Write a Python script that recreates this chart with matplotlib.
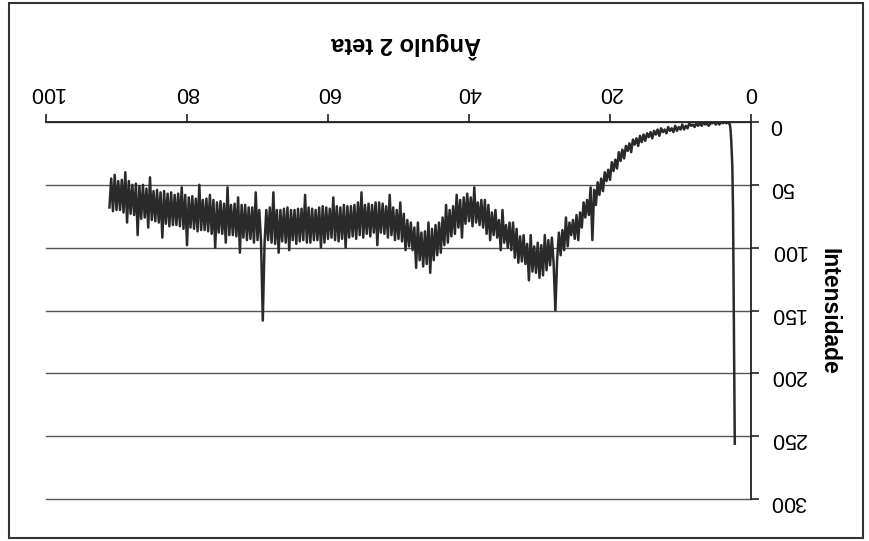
# Difratograma (imagem digitalizada de cabeca para baixo)

import numpy as np
import matplotlib
matplotlib.use("Agg")
from matplotlib import pyplot as plt
from matplotlib.patches import Rectangle

# Trecho inicial (queda brusca em angulos baixos)
angulo_inicio = [2.3, 2.55, 2.65, 2.8, 2.9]
intensidade_inicio = [256, 70, 35, 15, 6]

# Varredura a partir de 3 graus, passo de 0.25 grau (4 leituras por grau)
intensidade_varredura = [
    2, 0, 1, 0,        # 3
    1, 0, 2, 0,        # 4
    2, 0, 1, 1,        # 5
    3, 1, 2, 0,        # 6
    3, 1, 3, 1,        # 7
    4, 2, 3, 1,        # 8
    5, 3, 6, 2,        # 9
    6, 4, 7, 3,        # 10
    8, 5, 7, 4,        # 11
    9, 6, 8, 5,        # 12
    11, 6, 10, 7,      # 13
    13, 8, 12, 9,      # 14
    15, 10, 16, 11,    # 15
    19, 13, 18, 14,    # 16
    24, 17, 23, 19,    # 17
    29, 22, 31, 24,    # 18
    37, 30, 39, 32,    # 19
    46, 38, 47, 40,    # 20
    55, 45, 58, 48,    # 21
    66, 54, 94, 52,    # 22
    74, 62, 76, 64,    # 23
    84, 72, 94, 74,    # 24
    93, 78, 90, 80,    # 25
    99, 76, 102, 86,   # 26
    106, 88, 110, 150, # 27
    112, 92, 114, 94,  # 28
    118, 90, 122, 98,  # 29
    124, 96, 120, 99,  # 30
    119, 90, 126, 97,  # 31
    113, 90, 111, 91,  # 32
    112, 85, 108, 80,  # 33
    102, 80, 100, 82,  # 34
    96, 70, 102, 78,   # 35
    92, 70, 90, 72,    # 36
    94, 66, 89, 62,    # 37
    84, 62, 82, 64,    # 38
    80, 52, 83, 60,    # 39
    79, 57, 81, 60,    # 40
    92, 62, 84, 58,    # 41
    89, 67, 91, 70,    # 42
    96, 66, 98, 76,    # 43
    104, 80, 106, 82,  # 44
    110, 85, 120, 80,  # 45
    113, 87, 115, 88,  # 46
    110, 80, 116, 84,  # 47
    102, 80, 99, 78,   # 48
    102, 73, 95, 64,   # 49
    93, 70, 94, 68,    # 50
    90, 58, 92, 67,    # 51
    89, 65, 88, 64,    # 52
    98, 64, 88, 66,    # 53
    91, 65, 89, 66,    # 54
    92, 56, 90, 64,    # 55
    93, 66, 91, 67,    # 56
    92, 67, 100, 66,   # 57
    93, 68, 95, 67,    # 58
    94, 60, 92, 69,    # 59
    93, 68, 96, 67,    # 60
    100, 68, 94, 70,   # 61
    94, 69, 96, 68,    # 62
    96, 58, 94, 69,    # 63
    95, 69, 97, 70,    # 64
    94, 70, 102, 68,   # 65
    96, 69, 95, 70,    # 66
    104, 70, 97, 56,   # 67
    96, 68, 94, 70,    # 68
    97, 158, 95, 70,   # 69
    94, 56, 96, 68,    # 70
    93, 68, 94, 66,    # 71
    92, 66, 104, 60,   # 72
    91, 65, 90, 66,    # 73
    90, 52, 96, 65,    # 74
    89, 63, 88, 64,    # 75
    100, 62, 89, 58,   # 76
    87, 61, 86, 62,    # 77
    86, 50, 87, 61,    # 78
    85, 59, 84, 60,    # 79
    98, 58, 85, 52,    # 80
    83, 57, 82, 58,    # 81
    82, 56, 83, 57,    # 82
    81, 55, 92, 56,    # 83
    80, 54, 79, 55,    # 84
    78, 44, 84, 53,    # 85
    76, 50, 77, 51,    # 86
    90, 49, 74, 50,    # 87
    73, 47, 80, 40,    # 88
    72, 46, 70, 47,    # 89
    70, 42, 71, 45,    # 90
    68,                # 91
]

ticks_x = [0, 20, 40, 60, 80, 100]
ticks_y = [0, 50, 100, 150, 200, 250, 300]

rotulo_x = "Ângulo 2 teta"
rotulo_y = "Intensidade"

plt.rcParams["font.family"] = ["Liberation Sans", "DejaVu Sans"]

angulo_varredura = 3 + 0.25 * np.arange(len(intensidade_varredura))
angulo = np.concatenate([angulo_inicio, angulo_varredura])
intensidade = np.concatenate([intensidade_inicio, intensidade_varredura])

fig = plt.figure(figsize=(8.69, 5.41), dpi=100)
fig.patch.set_facecolor("white")

# Moldura externa da area do grafico
fig.patches.append(Rectangle((8.5 / 869, 1 - 538 / 541), 854 / 869, 535 / 541,
                             transform=fig.transFigure, fill=False,
                             edgecolor="#333333", linewidth=1.5))

ax = fig.add_axes([46 / 869, 1 - 499 / 541, 705 / 869, 377 / 541])

# Eixos invertidos (imagem girada 180 graus)
ax.set_xlim(100, 0)
ax.set_ylim(300, 0)

ax.plot(angulo, intensidade, color="#2a2a2a", linewidth=1.8)

ax.set_xticks(ticks_x)
ax.set_yticks(ticks_y)
ax.xaxis.tick_top()
ax.yaxis.tick_right()
ax.tick_params(axis="x", direction="out", length=6, width=1.2, pad=8,
               labelsize=15.5, labelrotation=180, color="#222222")
ax.tick_params(axis="y", direction="out", length=5.5, width=1.2, pad=8,
               labelsize=15.5, labelrotation=180, color="#222222")

for lado in ["left", "bottom"]:
    ax.spines[lado].set_visible(False)
for lado in ["top", "right"]:
    ax.spines[lado].set_linewidth(1.3)
    ax.spines[lado].set_color("#222222")

ax.yaxis.grid(True, color="#555555", linewidth=1.0)
ax.set_axisbelow(True)
for linha in ax.get_ygridlines():
    linha.set_clip_on(False)

fig.text(406 / 869, 1 - 45 / 541, rotulo_x, rotation=180, ha="center", va="center",
         fontsize=17, fontweight="bold")
fig.text(829 / 869, 1 - 311 / 541, rotulo_y, rotation=270, ha="center", va="center",
         fontsize=16.5, fontweight="bold")

fig.savefig("out.png", dpi=100)
